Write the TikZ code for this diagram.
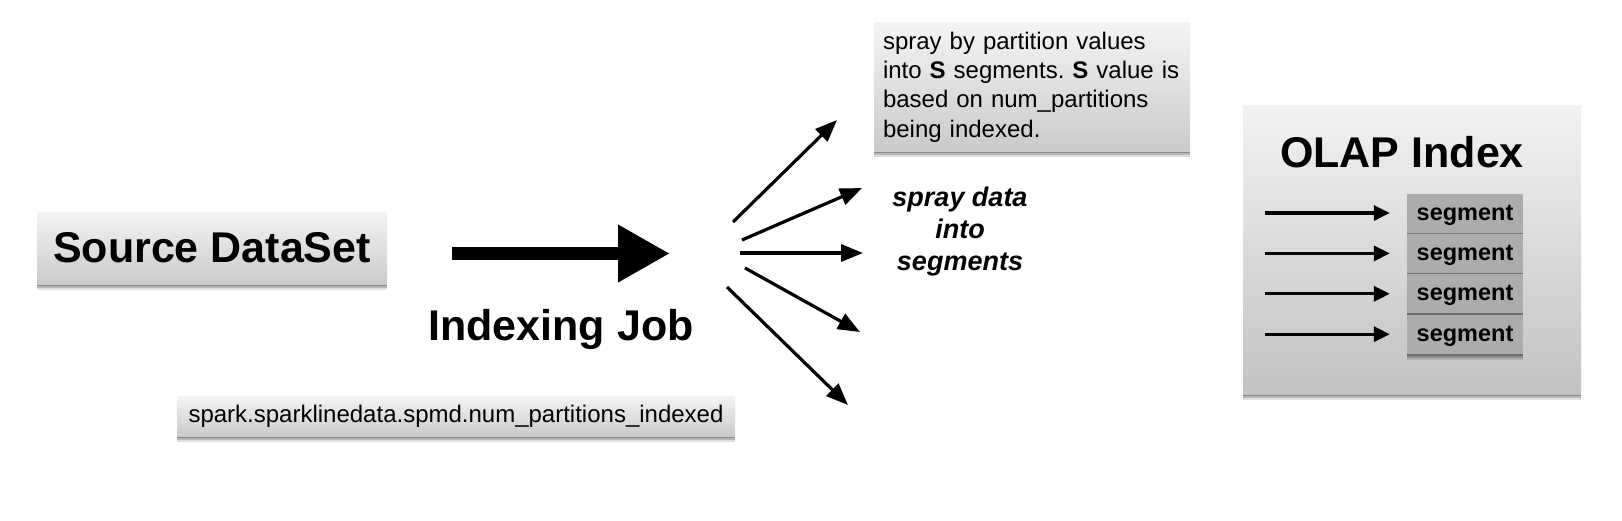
\documentclass[tikz,border=0pt]{standalone}
\usepackage{fontspec}
\setmainfont{Liberation Sans}
\usetikzlibrary{arrows.meta,positioning}
\definecolor{boxtop}{HTML}{F4F4F4}
\definecolor{boxbot}{HTML}{CACACA}
\definecolor{olaptop}{HTML}{F2F2F2}
\definecolor{olapbot}{HTML}{C2C2C2}
\definecolor{seggray}{HTML}{AAADAA}
\tikzset{
softshadow/.style={
	preaction={fill=black, opacity=0.12, transform canvas={yshift=-6pt}},
	preaction={fill=black, opacity=0.18, transform canvas={yshift=-4pt}},
	preaction={fill=black, opacity=0.25, transform canvas={yshift=-2pt}}},
srcbox/.style={softshadow, top color=boxtop, bottom color=boxbot,
	inner sep=0pt},
olapbox/.style={softshadow, top color=olaptop, bottom color=olapbot},
segbox/.style={softshadow, fill=seggray, minimum width=116pt,
	minimum height=39pt, inner sep=0pt, text height=14pt, text depth=0pt,
	font=\segfont},
spray/.style={line width=3.2pt, -{Triangle[length=22pt,width=17pt]}},
segarrow/.style={line width=3.2pt, -{Triangle[length=16pt,width=15pt]},
	shorten >=17pt}
}
\newcommand{\srcfont}{\fontsize{43}{50}\selectfont\bfseries}
\newcommand{\txtfont}{\fontsize{24}{29.3}\selectfont\frenchspacing}
\newcommand{\segfont}{\fontsize{23.5}{28}\selectfont\bfseries}
\newcommand{\sprfont}{\fontsize{27}{32}\selectfont\bfseries\itshape}

\begin{document}
\begin{tikzpicture}[x=1pt, y=-1pt]
	\useasboundingbox (0,0) rectangle (1622,520);
	% source and the job
	\node[srcbox, minimum width=350pt, minimum height=72pt, font=\srcfont]
		(src) at (212,248) {Source DataSet};
	\coordinate (jobin) at (452,253.5);
	\coordinate (jobout) at (670,253.5);
	\draw[line width=13pt, -{Triangle[length=52pt,width=54pt]}]
		(jobin) -- (jobout);
	\node[font=\srcfont, anchor=base] (joblbl) at (561,340) {Indexing Job};
	\node[srcbox, minimum width=558pt, minimum height=40pt, font=\txtfont]
		(param) at (456,416) {spark.sparklinedata.spmd.num\_partitions\_indexed};
	% spray
	\foreach \n/\sx/\sy/\ex/\ey in {1/733/222/837/120, 2/742/240/862/188,
		3/740/253/863/253, 4/745/268/860/332, 5/727/287/848/405}{
		\coordinate (s\n) at (\sx,\sy);
		\coordinate (e\n) at (\ex,\ey);
		\draw[spray] (s\n) -- (e\n);
	}
	\node[font=\sprfont, align=center] (spraylbl) at (960,232)
		{spray data\\into\\segments};
	\node[srcbox, text width=298pt, inner sep=9pt, align=left,
		minimum height=126pt, font=\txtfont] (note) at (1032,87)
		{spray by partition values\\into \textbf{S} segments. \textbf{S} value is\\based on num\_partitions\\being indexed.};
	% index
	\node[olapbox, minimum width=338pt, minimum height=289pt] (olap)
		at (1412,249.5) {};
	\node[font=\srcfont, anchor=base] (olaptitle) at (1402,167) {OLAP Index};
	\node[segbox] (seg1) at (1465,213) {segment};
	\node[segbox, below=1pt of seg1] (seg2) {segment};
	\node[segbox, below=1pt of seg2] (seg3) {segment};
	\node[segbox, below=1pt of seg3] (seg4) {segment};
	\foreach \i in {1,...,4}
		\draw[segarrow] ([xshift=-142pt]seg\i.west) -- (seg\i.west);
\end{tikzpicture}
\end{document}
